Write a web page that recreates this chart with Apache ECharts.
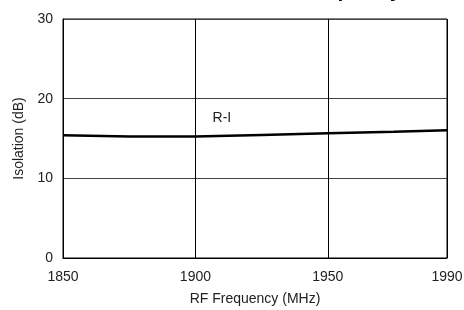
<!DOCTYPE html>
<html>
<head>
<meta charset="utf-8">
<script src="https://cdn.jsdelivr.net/npm/echarts@6/dist/echarts.min.js"></script>
<style>
  html, body { margin: 0; padding: 0; background: #fff; }
  #chart { width: 464px; height: 310px; }
</style>
</head>
<body>
<div id="chart"></div>
<script>
// RF frequency (MHz) vs isolation (dB)
var freqs = [1850, 1875, 1900, 1925, 1950, 1975, 1995]
var isolation = [15.4, 15.25, 15.25, 15.45, 15.65, 15.85, 16.05]
var xTickLabels = ['1850', '1900', '1950', '1990']
var seriesLabel = 'R-I'
var labelAt = [1910, 17.6]

var font = '"Liberation Sans", Arial, sans-serif'
var fs = 14

var data = freqs.map(function (f, i) { return [f, isolation[i]] })

var option = {
  backgroundColor: '#fff',
  animation: false,
  title: {
    text: 'Isolation vs. RF Frequency',
    right: 58,
    top: -24,
    textStyle: { fontFamily: font, fontSize: 20, fontWeight: 'bold', color: '#000' }
  },
  grid: {
    left: 63, right: 17, top: 19, bottom: 52,
    outerBoundsMode: 'none',
    show: true, borderColor: '#000', borderWidth: 1
  },
  xAxis: {
    type: 'value',
    min: 1850,
    max: 1995,
    interval: 50,
    name: 'RF Frequency (MHz)',
    nameLocation: 'middle',
    nameGap: 34,
    nameTextStyle: { fontFamily: font, fontSize: fs, color: '#222' },
    axisLine: { lineStyle: { color: '#000', width: 1 } },
    axisTick: { show: false },
    axisLabel: {
      fontFamily: font, fontSize: fs, color: '#222', margin: 12,
      formatter: function (v, i) { return xTickLabels[i] }
    },
    splitLine: { show: true, lineStyle: { color: '#000', width: 1 } }
  },
  yAxis: {
    type: 'value',
    min: 0,
    max: 30,
    interval: 10,
    name: 'Isolation (dB)',
    nameLocation: 'middle',
    nameGap: 29,
    nameTextStyle: { fontFamily: font, fontSize: fs, color: '#222' },
    axisLine: { show: true, lineStyle: { color: '#000', width: 1 } },
    axisTick: { show: false },
    axisLabel: { fontFamily: font, fontSize: fs, color: '#222', margin: 10 },
    splitLine: { show: true, lineStyle: { color: '#444', width: 1 } }
  },
  series: [
    {
      name: seriesLabel,
      type: 'line',
      data: data,
      showSymbol: false,
      lineStyle: { color: '#000', width: 2.5 },
      markPoint: {
        symbol: 'circle',
        symbolSize: 0,
        data: [{ coord: labelAt }],
        label: {
          show: true,
          position: 'inside',
          formatter: seriesLabel,
          fontFamily: font, fontSize: fs, color: '#222'
        }
      }
    }
  ]
}

var chart = echarts.init(document.getElementById('chart'))
chart.setOption(option)
</script>
</body>
</html>
